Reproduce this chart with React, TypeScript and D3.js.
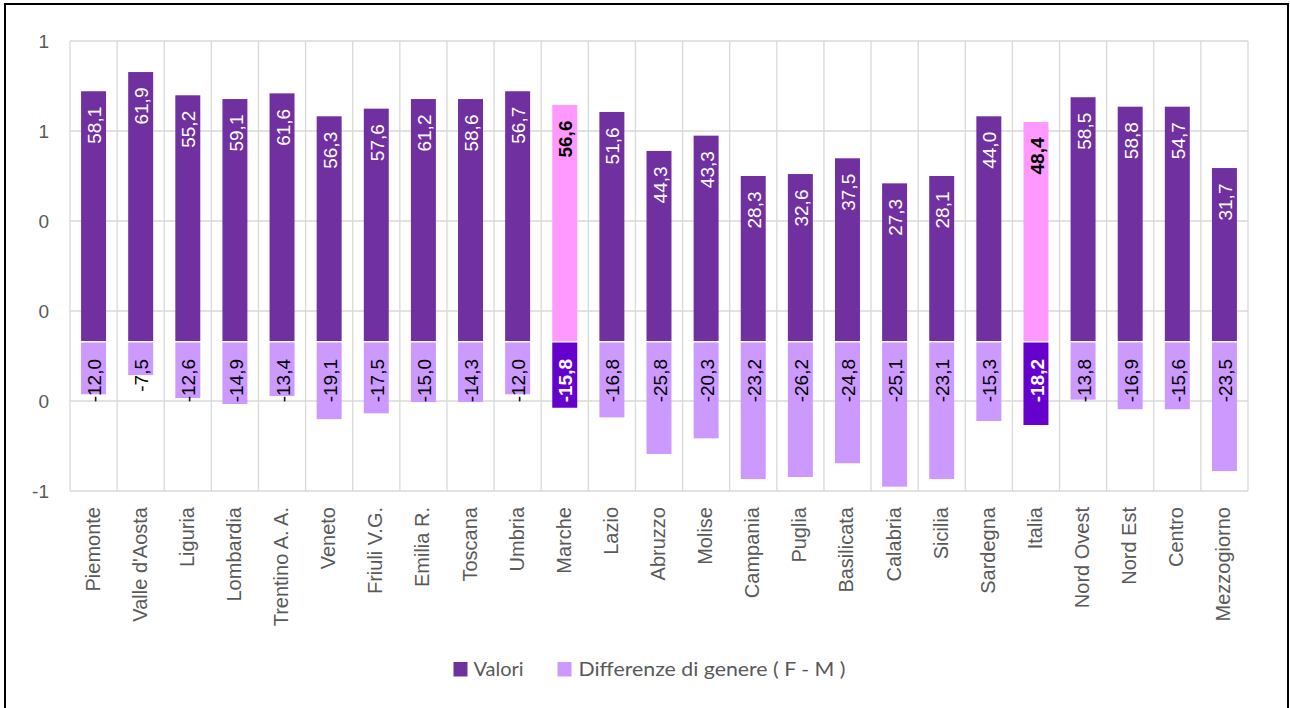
import React from "react";
import * as d3 from "d3";

const categories = [
  "Piemonte", "Valle d'Aosta", "Liguria", "Lombardia", "Trentino A. A.", "Veneto",
  "Friuli V.G.", "Emilia R.", "Toscana", "Umbria", "Marche", "Lazio", "Abruzzo",
  "Molise", "Campania", "Puglia", "Basilicata", "Calabria", "Sicilia", "Sardegna",
  "Italia", "Nord Ovest", "Nord Est", "Centro", "Mezzogiorno",
];

// Data labels shown on the bars
const valori = [58.1, 61.9, 55.2, 59.1, 61.6, 56.3, 57.6, 61.2, 58.6, 56.7, 56.6, 51.6, 44.3, 43.3, 28.3, 32.6, 37.5, 27.3, 28.1, 44.0, 48.4, 58.5, 58.8, 54.7, 31.7];
const differenze = [-12.0, -7.5, -12.6, -14.9, -13.4, -19.1, -17.5, -15.0, -14.3, -12.0, -15.8, -16.8, -25.8, -20.3, -23.2, -26.2, -24.8, -25.1, -23.1, -15.3, -18.2, -13.8, -16.9, -15.6, -23.5];

// Bar lengths as read on the chart's hidden secondary axis (-100 .. 200)
const valoriBar = [166.5, 179.3, 163.8, 161.3, 165.1, 149.8, 154.9, 161.3, 161.3, 166.5, 157.3, 152.7, 126.7, 136.9, 110.0, 111.3, 121.8, 105.1, 110.0, 149.8, 146.0, 162.5, 156.2, 156.2, 115.3];
const differenzeBar = [-35.5, -22.7, -38.0, -42.0, -36.7, -52.1, -48.2, -40.7, -40.7, -35.5, -44.5, -50.9, -75.3, -64.9, -92.0, -90.7, -81.5, -97.1, -92.0, -53.3, -56.0, -39.1, -45.5, -45.5, -86.7];

const highlighted = ["Marche", "Italia"];

// Primary (visible) axis ticks and their displayed labels
const yTickValues = [1.2, 0.8, 0.4, 0, -0.4, -0.8];
const yTickLabels = ["1", "1", "0", "0", "0", "-1"];

const seriesNames = ["Valori", "Differenze di genere ( F - M )"];

const C_VAL = "#7030A0";
const C_DIFF = "#CC99FF";
const C_VAL_HI = "#FF99FF";
const C_DIFF_HI = "#6600CC";
const GRID = "#D9D9D9";
const TXT = "#595959";
const FONT = "'Liberation Sans', Arial, sans-serif";

const fmt = (v: number) => d3.format(".1f")(Math.abs(v)).replace(".", ",");
const fmtSigned = (v: number) => (v < 0 ? "-" : "") + fmt(v);

export default function App() {
  const W = 1290, H = 708;
  const left = 70, right = 1248, top = 41, bottom = 491;

  const x = d3.scaleBand<string>().domain(categories).range([left, right]).paddingInner(0.47).paddingOuter(0.235);
  const step = x.step();
  const yAxis = d3.scaleLinear().domain([-0.8, 1.2]).range([bottom, top]);
  const yBar = d3.scaleLinear().domain([-100, 200]).range([bottom, top]);
  const y0 = yBar(0);

  const colEdges = d3.range(categories.length + 1).map((i) => left + i * step);

  return (
    <svg width={W} height={H} style={{ position: "absolute", left: 0, top: 0, background: "#fff" }}>
      <rect x={0} y={0} width={W} height={H} fill="#fff" />
      {/* grid */}
      {yTickValues.map((t, i) => (
        <line key={"h" + i} x1={left} x2={right} y1={yAxis(t)} y2={yAxis(t)} stroke={GRID} strokeWidth={1.3} />
      ))}
      {colEdges.map((cx, i) => (
        <line key={"v" + i} x1={cx} x2={cx} y1={top} y2={bottom} stroke={GRID} strokeWidth={1.3} />
      ))}
      {/* y tick labels */}
      {yTickValues.map((t, i) => (
        <text key={"yt" + i} x={49} y={yAxis(t)} dy="0.35em" textAnchor="end" fontFamily={FONT} fontSize={19} fill={TXT}>
          {yTickLabels[i]}
        </text>
      ))}
      {/* bars */}
      {categories.map((c, i) => {
        const hi = highlighted.includes(c);
        const bx = x(c)!;
        const bw = x.bandwidth();
        const vt = yBar(valoriBar[i]);
        const db = yBar(differenzeBar[i]);
        return (
          <g key={"b" + i}>
            <rect x={bx} y={vt} width={bw} height={y0 - vt} fill={hi ? C_VAL_HI : C_VAL} />
            <rect x={bx} y={y0 + 1.5} width={bw} height={db - y0 - 1.5} fill={hi ? C_DIFF_HI : C_DIFF} />
          </g>
        );
      })}
      {/* data labels */}
      {categories.map((c, i) => {
        const hi = highlighted.includes(c);
        const cx = x(c)! + x.bandwidth() / 2;
        const vt = yBar(valoriBar[i]);
        return (
          <g key={"l" + i} fontFamily={FONT} fontSize={19}>
            <text transform={`translate(${cx},${vt + 15.5}) rotate(-90)`} dy="0.4em" textAnchor="end"
              fill={hi ? "#000" : "#fff"} fontWeight={hi ? "bold" : "normal"}>
              {fmt(valori[i])}
            </text>
            <text transform={`translate(${cx},${y0 + 18}) rotate(-90)`} dy="0.4em" textAnchor="end"
              fill={hi ? "#fff" : "#000"} fontWeight={hi ? "bold" : "normal"}>
              {fmtSigned(differenze[i])}
            </text>
          </g>
        );
      })}
      {/* category labels */}
      {categories.map((c, i) => {
        const cx = x(c)! + x.bandwidth() / 2;
        return (
          <text key={"c" + i} transform={`translate(${cx},${bottom + 16}) rotate(-90)`} dy="0.3em" textAnchor="end"
            fontFamily={FONT} fontSize={20} fill={TXT}>
            {c}
          </text>
        );
      })}
      {/* legend */}
      <g fontFamily="Lato, 'Open Sans', sans-serif" fontSize={20} fill={TXT}>
        <rect x={453.5} y={662} width={14} height={14.5} fill={C_VAL} />
        <text x={473.5} y={676}>{seriesNames[0]}</text>
        <rect x={557.5} y={662} width={14} height={14.5} fill={C_DIFF} />
        <text x={578.5} y={676} textLength={267} lengthAdjust="spacingAndGlyphs">{seriesNames[1]}</text>
      </g>
      {/* frame */}
      <rect x={5} y={4} width={1283} height={720} fill="none" stroke="#000" strokeWidth={2} />
    </svg>
  );
}
